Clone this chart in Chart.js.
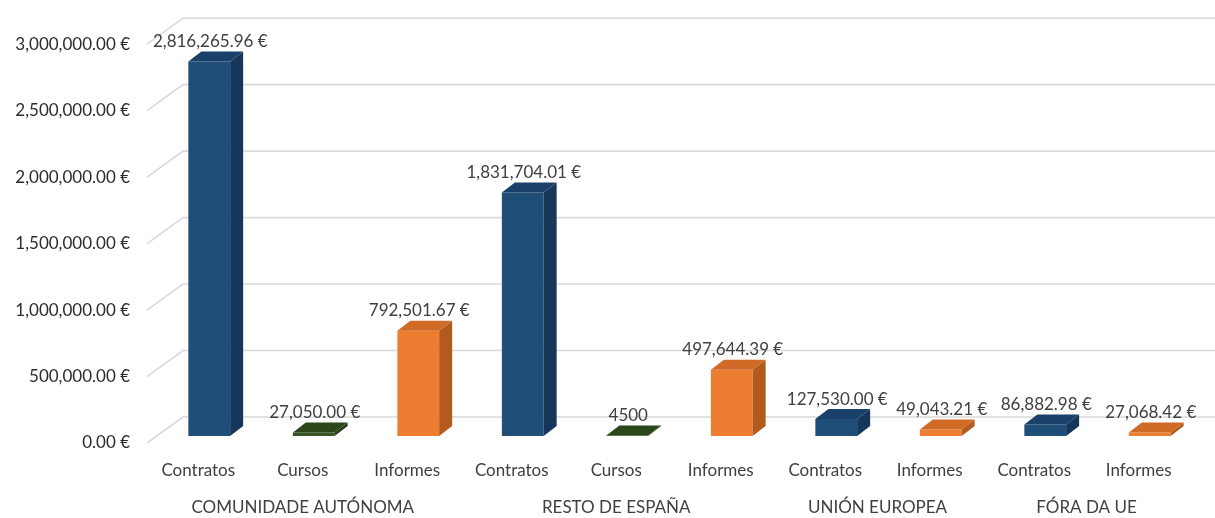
<!DOCTYPE html>
<html>
<head>
<meta charset="utf-8">
<script src="https://cdn.jsdelivr.net/npm/chart.js@4.4.1/dist/chart.umd.min.js"></script>
<style>
  html, body { margin: 0; padding: 0; background: #ffffff; }
  #wrap { width: 1215px; height: 518px; }
</style>
</head>
<body>
<div id="wrap"><canvas id="c" width="1215" height="518"></canvas></div>
<script>
// ---- data ----
const categories = ['Contratos', 'Cursos', 'Informes', 'Contratos', 'Cursos', 'Informes', 'Contratos', 'Informes', 'Contratos', 'Informes'];
const groups = ['COMUNIDADE AUTÓNOMA', 'RESTO DE ESPAÑA', 'UNIÓN EUROPEA', 'FÓRA DA UE'];
const groupSizes = [3, 3, 2, 2];
const values = [2816265.96, 27050.00, 792501.67, 1831704.01, 4500, 497644.39, 127530.00, 49043.21, 86882.98, 27068.42];
const labelStyle = ['eur', 'eur', 'eur', 'eur', 'plain', 'eur', 'eur', 'eur', 'eur', 'eur'];
const yMin = 0, yMax = 3000000, yStep = 500000;

// ---- styling ----
const palette = {
  Contratos: { front: '#1F4E79', side: '#16365A', top: '#1A416A' },
  Cursos:    { front: '#375623', side: '#263D18', top: '#2C481B' },
  Informes:  { front: '#ED7D31', side: '#B35A1F', top: '#D06A27' }
};
const FONT = 'Lato, "Open Sans", sans-serif';
const FS = 17;
const DX = 13, DY = 10;          // 3D depth offsets for bars
const WALL_DX = 36, WALL_DY = 26; // floor / wall depth for gridlines
const FRONT_SHIFT = 7;          // front edge of floor below the bar base

function fmtEur(v) {
  const fixed = Math.abs(v).toFixed(2);
  let [ip, dp] = fixed.split('.');
  ip = ip.replace(/\B(?=(\d{3})+(?!\d))/g, ',');
  return (v < 0 ? '-' : '') + ip + '.' + dp + ' €';
}

const threeD = {
  id: 'threeD',
  beforeDatasetsDraw(chart) {
    const ctx = chart.ctx, ys = chart.scales.y, area = chart.chartArea;
    ctx.save();
    ctx.strokeStyle = '#D9D9D9';
    ctx.lineWidth = 1.6;
    ys.ticks.forEach(t => {
      const yb = ys.getPixelForValue(t.value);
      const fx = area.left - 10, fy = yb + FRONT_SHIFT;
      const bx = fx + WALL_DX, by = fy - WALL_DY;
      ctx.beginPath();
      ctx.moveTo(fx, fy);
      ctx.lineTo(bx, by);
      ctx.lineTo(chart.width, by);
      ctx.stroke();
    });
    ctx.restore();
  },
  afterDatasetsDraw(chart) {
    const ctx = chart.ctx;
    const meta = chart.getDatasetMeta(0);
    ctx.save();
    meta.data.forEach((el, i) => {
      const p = palette[categories[i]];
      const w = el.width;
      const x0 = el.x - w / 2, x1 = el.x + w / 2;
      const yt = el.y, yb = el.base;
      // side face
      ctx.fillStyle = p.side;
      ctx.beginPath();
      ctx.moveTo(x1, yt);
      ctx.lineTo(x1 + DX, yt - DY);
      ctx.lineTo(x1 + DX, yb - DY);
      ctx.lineTo(x1, yb);
      ctx.closePath();
      ctx.fill();
      // top face
      ctx.fillStyle = p.top;
      ctx.beginPath();
      ctx.moveTo(x0, yt);
      ctx.lineTo(x0 + DX, yt - DY);
      ctx.lineTo(x1 + DX, yt - DY);
      ctx.lineTo(x1, yt);
      ctx.closePath();
      ctx.fill();
      // value label
      const txt = labelStyle[i] === 'plain' ? String(values[i]) : fmtEur(values[i]);
      ctx.fillStyle = '#404040';
      ctx.font = FS + 'px ' + FONT;
      ctx.textAlign = 'center';
      ctx.textBaseline = 'middle';
      ctx.fillText(txt, el.x + 1, yt - DY - 10);
    });
    // group labels
    const xs = chart.scales.x;
    let start = 0;
    ctx.fillStyle = '#404040';
    ctx.font = FS + 'px ' + FONT;
    ctx.textAlign = 'center';
    ctx.textBaseline = 'middle';
    groups.forEach((g, gi) => {
      const end = start + groupSizes[gi] - 1;
      const cx = (xs.getPixelForValue(start) + xs.getPixelForValue(end)) / 2 - 11;
      ctx.fillText(g, cx, 508);
      start = end + 1;
    });
    ctx.restore();
  }
};

new Chart(document.getElementById('c'), {
  type: 'bar',
  data: {
    labels: categories,
    datasets: [{
      data: values,
      backgroundColor: categories.map(c => palette[c].front),
      borderWidth: 0,
      barPercentage: 0.40,
      categoryPercentage: 1.0
    }]
  },
  options: {
    responsive: false,
    devicePixelRatio: 1,
    animation: false,
    events: [],
    layout: { padding: { top: 35, right: 13, left: 0, bottom: 0 } },
    plugins: { legend: { display: false }, tooltip: { enabled: false } },
    scales: {
      x: {
        offset: true,
        grid: { display: false, drawTicks: false },
        border: { display: false },
        ticks: {
          color: '#404040',
          font: { family: FONT, size: FS },
          padding: 24,
          labelOffset: -11,
          maxRotation: 0,
          autoSkip: false
        },
        afterFit(s) { s.height = 82; }
      },
      y: {
        min: yMin, max: yMax,
        grid: { display: false, drawTicks: false },
        border: { display: false },
        ticks: {
          stepSize: yStep,
          color: '#2b2b2b',
          font: { family: FONT, size: FS },
          padding: 27,
          labelOffset: FRONT_SHIFT,
          callback: v => fmtEur(v)
        },
        afterFit(s) { s.width = 157; }
      }
    }
  },
  plugins: [threeD]
});
</script>
</body>
</html>
